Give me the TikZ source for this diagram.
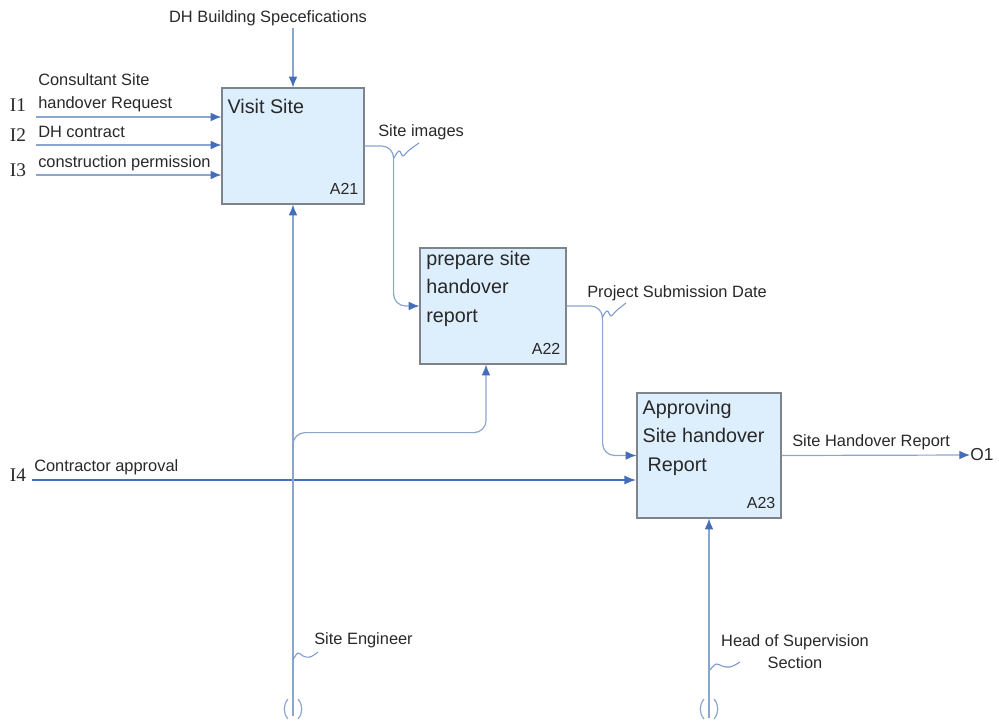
\documentclass[tikz,border=0pt]{standalone}
\usepackage{fontspec}
\setmainfont{Liberation Serif}
\setsansfont{Liberation Sans}
\usetikzlibrary{arrows.meta,positioning,fit,calc}

\definecolor{lineblue}{RGB}{140,165,205}
\definecolor{tipblue}{RGB}{68,110,185}
\definecolor{boxfill}{RGB}{221,238,253}
\definecolor{boxline}{RGB}{125,132,140}
\definecolor{textgray}{RGB}{40,40,40}

\begin{document}
\begin{tikzpicture}[
    x=0.75pt, y=-0.75pt,
    actbox/.style={draw=boxline, fill=boxfill, line width=0.9pt, inner sep=0pt},
    boxtext/.style={inner sep=0pt, anchor=north west, align=left, text=textgray,
        font=\sffamily\fontsize{14.8}{21.4}\selectfont},
    boxid/.style={inner sep=0pt, anchor=base east, text=textgray, font=\sffamily\fontsize{12}{14}\selectfont},
    lbl/.style={inner sep=0pt, anchor=base west, text=textgray, align=left,
        font=\sffamily\fontsize{12.3}{17}\selectfont},
    icode/.style={inner sep=0pt, text=textgray, font=\rmfamily\fontsize{14.5}{16}\selectfont},
    flow/.style={draw=lineblue, line width=0.9pt, -{Latex[length=8pt,width=6.5pt,color=tipblue]}},
    thickflow/.style={draw=tipblue, line width=1.7pt, -{Latex[length=9pt,width=7pt]}},
    squig/.style={draw=tipblue!70, line width=0.8pt},
    tunnel/.style={draw=lineblue, line width=0.9pt}
]
\useasboundingbox (0,0) rectangle (999,722);

% activity boxes
\node[actbox, fit={(222,88) (364,204)}] (a21) {};
\node[actbox, fit={(420,248) (566,364)}] (a22) {};
\node[actbox, fit={(637,393) (781,518)}] (a23) {};

\node[boxtext] (a21t) at ([xshift=4.5pt,yshift=-9pt]a21.north west) {Visit Site};
\node[boxtext] (a22t) at ([xshift=5pt,yshift=-2.5pt]a22.north west) {prepare site\\handover\\report};
\node[boxtext] (a23t) at ([xshift=4.5pt,yshift=-5.5pt]a23.north west) {Approving\\Site handover\\\hspace*{0.25em}Report};

\node[boxid] (a21id) at ([xshift=-4.5pt,yshift=7.5pt]a21.south east) {A21};
\node[boxid] (a22id) at ([xshift=-4.5pt,yshift=7.5pt]a22.south east) {A22};
\node[boxid] (a23id) at ([xshift=-4.5pt,yshift=7.5pt]a23.south east) {A23};

% control
\node[lbl, anchor=base] (ctl) at (268,22) {DH Building Specefications};
\coordinate (ctlend) at (a21.north |- 0,28);
\draw[flow] (ctlend) -- (a21.north);

% inputs
\node[icode] (i1) at (18,105) {I1};
\node[icode] (i2) at (18,135) {I2};
\node[icode] (i3) at (18,170) {I3};
\node[icode] (i4) at (18,475) {I4};
\node[lbl] (i1l) at (38,108) {Consultant Site\\handover Request};
\node[lbl] (i2l) at (38,137) {DH contract};
\node[lbl] (i3l) at (38,167) {construction permission};
\node[lbl] (i4l) at (34,471) {Contractor approval};

\coordinate (i1s) at (36,117);
\coordinate (i2s) at (36,145);
\coordinate (i3s) at (36,175);
\coordinate (i4s) at (32,480);
\draw[flow] (i1s) -- (i1s -| a21.west);
\draw[flow] (i2s) -- (i2s -| a21.west);
\draw[flow] (i3s) -- (i3s -| a21.west);
\draw[thickflow] (i4s) -- (i4s -| a23.west);

% flows between activities
\draw[flow, rounded corners=9] (a21.east) -- ++(29,0) |- (a22.west);
\draw[flow, rounded corners=9] (a22.east) -- ++(36,0) |- (a23.west);
\node[lbl] (simg) at (378,136) {Site images};
\node[lbl] (psd) at (587,297) {Project Submission Date};
\draw[squig] plot[smooth, tension=0.7] coordinates {(394,158) (399,151) (403,156) (408,151) (419,143)};
\draw[squig] plot[smooth, tension=0.7] coordinates {(602,318) (607,311) (611,316) (616,311) (626,303)};

% output
\node[icode, anchor=west, font=\sffamily\fontsize{13}{15}\selectfont] (o1) at (970,455) {O1};
\draw[flow] (a23.east) -- (o1.west);
\node[lbl] (shr) at (792,446) {Site Handover Report};

% mechanisms
\coordinate (m1) at (a21.south |- 0,716);
\coordinate (br) at (a21.south |- 0,447);
\draw[flow] (m1) -- (a21.south);
\draw[flow, rounded corners=9] (br) |- ($(a22.south)+(-7,68)$) -- ([xshift=-5.25pt]a22.south);
\node[lbl] (seng) at (314,644) {Site Engineer};
\draw[squig] plot[smooth, tension=0.7] coordinates {(293,660) (298,653) (303,656) (310,657) (318,652)};
\draw[tunnel] (288,699) .. controls (283,705) and (283,713) .. (288,719);
\draw[tunnel] (298,699) .. controls (303,705) and (303,713) .. (298,719);

\coordinate (m2) at (a23.south -| 709,0);
\coordinate (m2s) at (709,718);
\draw[flow] (m2s) -- (m2);
\node[lbl, align=center, anchor=north] (hsup) at (795,634) {Head of Supervision\\Section};
\draw[squig] plot[smooth, tension=0.7] coordinates {(710,670) (716,664) (722,666) (730,667) (740,662)};
\draw[tunnel] (704,699) .. controls (699,705) and (699,713) .. (704,719);
\draw[tunnel] (714,699) .. controls (719,705) and (719,713) .. (714,719);
\end{tikzpicture}
\end{document}
